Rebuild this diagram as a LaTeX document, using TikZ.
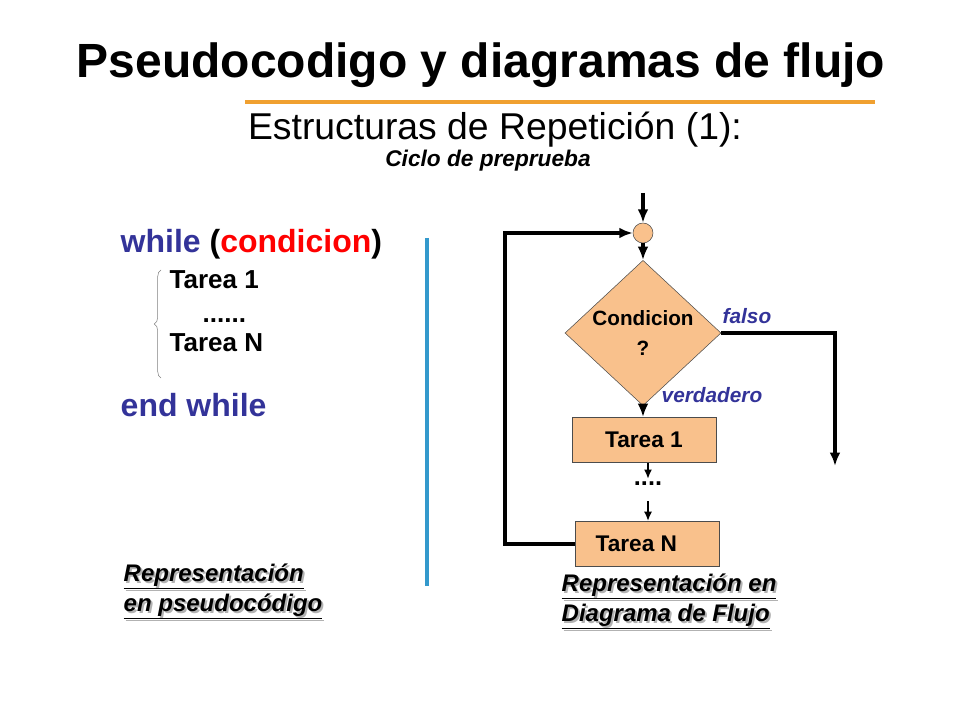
\documentclass[tikz,border=0pt]{standalone}
\usepackage{fontspec}
\setmainfont{Liberation Sans}
\usetikzlibrary{shapes.geometric,arrows.meta,decorations.pathreplacing}
\definecolor{peach}{HTML}{F9C18C}
\definecolor{navy}{HTML}{333399}
\definecolor{orng}{HTML}{F0A030}
\definecolor{vline}{HTML}{3399CC}
\begin{document}
\begin{tikzpicture}[x=0.75pt,y=-0.75pt,
  box/.style={draw=black!70,fill=peach,minimum width=108pt,minimum height=34pt,font=\bfseries\fontsize{17}{20}\selectfont},
  flow/.style={line width=3pt,-{Latex[length=10pt,width=8pt]}},
  thinarr/.style={line width=1.5pt,-{Latex[length=7pt,width=6pt]}},
  code/.style={anchor=base west,font=\bfseries\fontsize{24}{28}\selectfont},
  sub/.style={anchor=base west,font=\bfseries\fontsize{19.5}{22}\selectfont},
  lbl/.style={anchor=base west,font=\bfseries\itshape\fontsize{15.6}{18}\selectfont},
  captxt/.style={anchor=base west,align=left,font=\bfseries\itshape\fontsize{18}{22.5}\selectfont}]
\useasboundingbox (0,0) rectangle (960,720);
\node[font=\bfseries\fontsize{36}{40}\selectfont] (title) at (481,65) {Pseudocodigo y diagramas de flujo};
\draw[orng,line width=2.5pt] (245,102) -- (875,102);
\node[font=\fontsize{28}{32}\selectfont] (sub) at (495,130) {Estructuras de Repetición (1):};
\node[font=\bfseries\itshape\fontsize{17}{20}\selectfont] (sub2) at (488,161) {Ciclo de preprueba};
% pseudocode
\node[code] (wh) at (116,253) {\textcolor{navy}{while} (\textcolor{red}{condicion})};
\node[sub] (t1) at (165,289) {Tarea 1};
\node[sub] (dd) at (198,322) {......};
\node[sub] (tn) at (165,351) {Tarea N};
\draw[gray,line width=0.4pt,decorate,decoration={brace,amplitude=5pt,mirror}] (161,270) -- (161,378);
\node[code,text=navy] (ew) at (116,416) {end while};
\draw[vline,line width=3.2pt] (427,238) -- (427,586);
\node[captxt,text=gray!60] at (121,613) {\underline{Representación}\\\underline{en pseudocódigo}};
\node[captxt] (c1) at (119,611) {\underline{Representación}\\\underline{en pseudocódigo}};
% flowchart
\coordinate (start) at (643,193);
\node[circle,draw=black!70,fill=peach,minimum size=15pt,inner sep=0pt] (circ) at (643,233) {};
\node[diamond,draw=black!70,fill=peach,minimum width=117pt,minimum height=83pt,inner sep=0pt,align=center,font=\bfseries\fontsize{15.5}{22}\selectfont] (dia) at (643,333) {Condicion\\?};
\node[box] (b1) at (644,440) {Tarea 1};
\node[box] (bn) at (647,544) {Tarea N\hspace*{16pt}};
\node[font=\bfseries\fontsize{19}{20}\selectfont] (dots) at (648,484) {....};
\coordinate (fend) at (835,466);
\draw[flow] (start) -- (circ.north);
\draw[flow] (circ.south) -- (dia.north);
\draw[flow] (dia.south) -- (b1.north -| dia.south);
\draw[thinarr] (b1.south -| dots) -- ++(0,16);
\draw[thinarr] ([yshift=-8pt]dots.south) -- (bn.north -| dots);
\draw[flow] (bn.west) -- (505,544) -- (505,233) -- (circ.west);
\draw[flow] (dia.east) -- (835,333) -- (fend);
\node[lbl,text=navy] (fa) at (718,323) {falso};
\node[lbl,text=navy] (ve) at (657,402) {verdadero};
\node[captxt,text=gray!60] at (559,623) {\underline{Representación en}\\\underline{Diagrama de Flujo}};
\node[captxt] (c2) at (557,621) {\underline{Representación en}\\\underline{Diagrama de Flujo}};
\end{tikzpicture}
\end{document}
